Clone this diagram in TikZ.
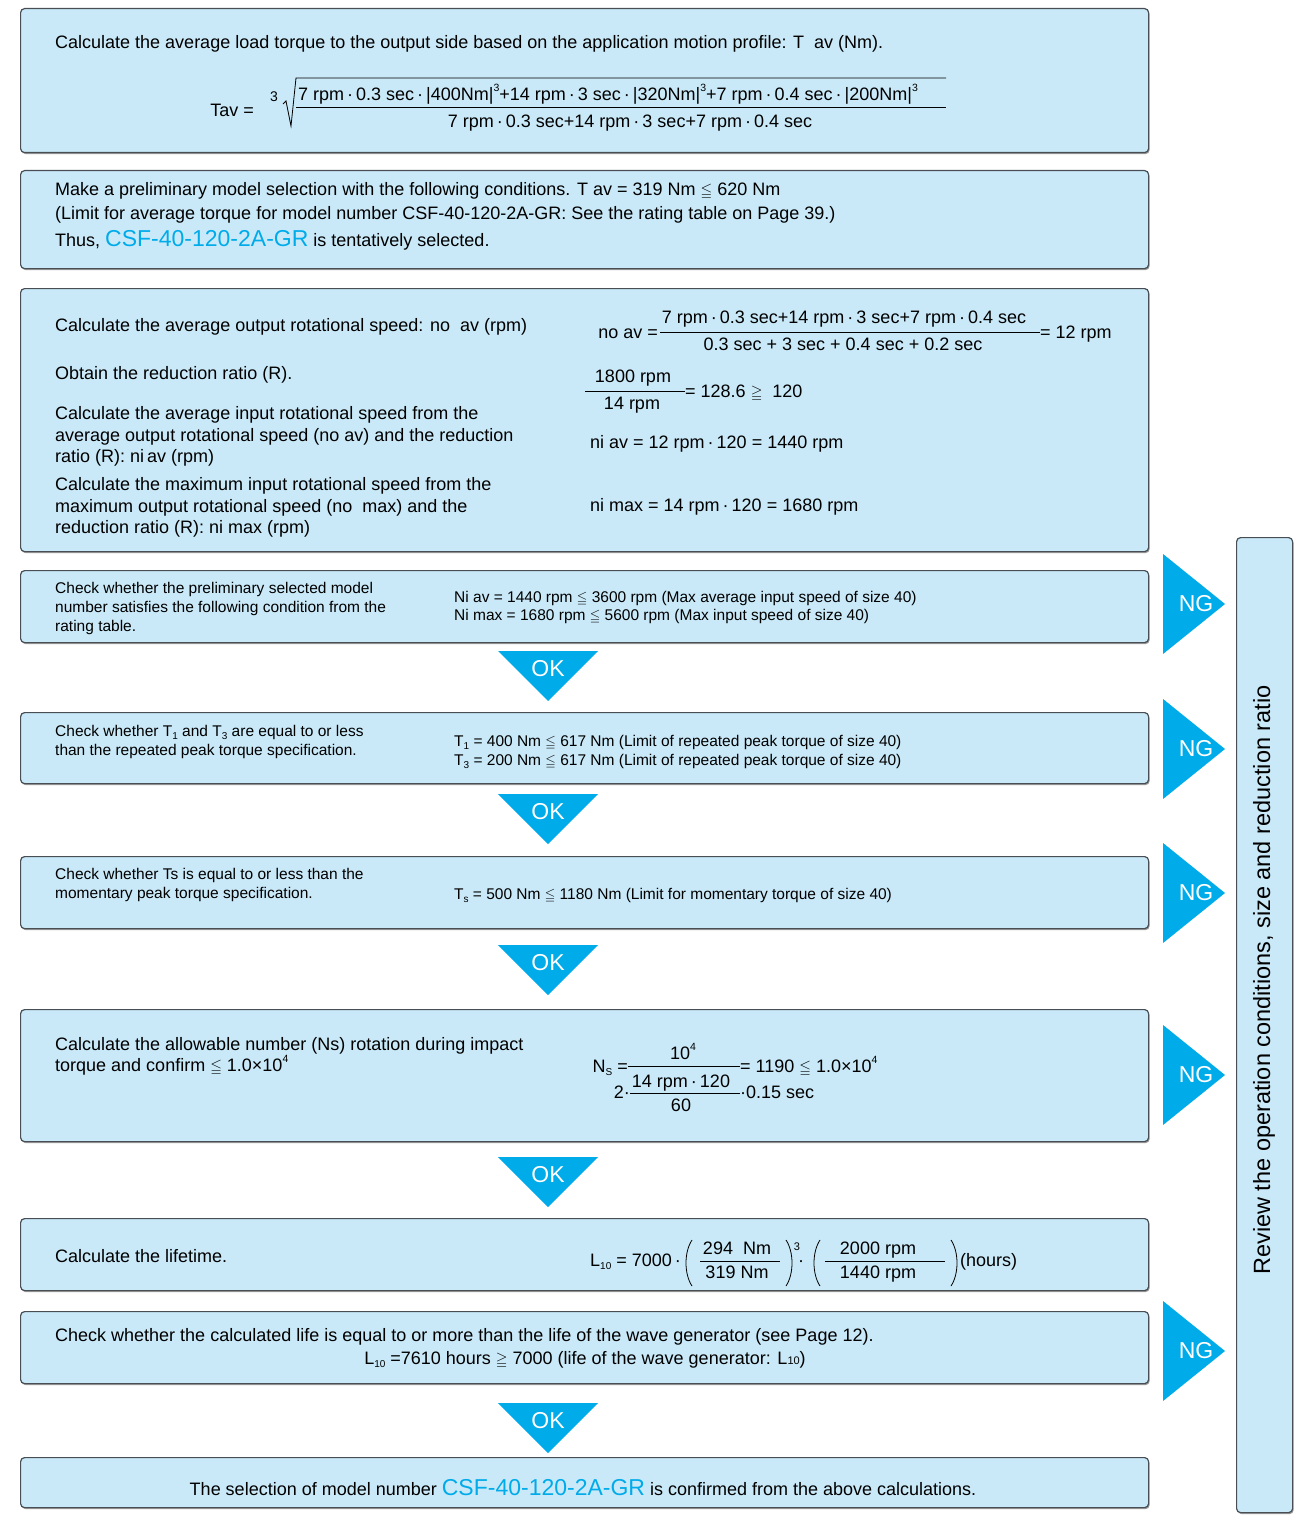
\documentclass[tikz,border=0pt]{standalone}
\usepackage{amssymb}
\usepackage{fontspec}
\setmainfont{Liberation Sans}
\usetikzlibrary{shadows}

\definecolor{cajafondo}{RGB}{201,233,248}
\definecolor{cajaborde}{RGB}{72,78,84}
\definecolor{cian}{RGB}{0,171,234}

\newcommand{\lesym}{{\fontsize{15}{15}\selectfont$\leqq$}}
\newcommand{\gesym}{{\fontsize{15}{15}\selectfont$\geqq$}}
\newcommand{\lesmall}{{\fontsize{13.5}{13.5}\selectfont$\leqq$}}
\newcommand{\dotm}{\,·\,}
\newcommand{\supx}[1]{\raisebox{0.5em}{\fontsize{10.5}{10.5}\selectfont #1}}
\newcommand{\subx}[1]{\raisebox{-0.2em}{\fontsize{10}{10}\selectfont #1}}
\newcommand{\modelo}{{\color{cian}\fontsize{23}{23}\selectfont CSF-40-120-2A-GR}}

\tikzset{
  caja/.style={draw=cajaborde, fill=cajafondo, line width=1.2pt, rounded corners=4pt,
    drop shadow={shadow xshift=1pt, shadow yshift=-1.5pt, opacity=0.4, fill=black},
    anchor=north west, inner sep=0, minimum width=1128pt},
  txt/.style={font=\fontsize{18}{21}\selectfont, inner sep=0, anchor=base west},
  txtc/.style={txt, anchor=base},
  peq/.style={font=\fontsize{15.5}{18}\selectfont, inner sep=0, anchor=base west},
  marca/.style={font=\fontsize{23}{23}\selectfont, text=white, inner sep=0},
  raya/.style={line width=0.8pt}
}

\begin{document}
\begin{tikzpicture}[x=1pt,y=-1pt]
    \useasboundingbox (0,0) rectangle (1301,1517);

    % Cajas
    \foreach \n/\y/\h in {1/8/144, 2/170/98, 3/288/263, 4/570/72, 5/712/71,
                          6/856/72, 7/1009/132, 8/1218/72, 9/1311/72, 10/1457/50}
        \node[caja, minimum height=\h pt] (c\n) at (20,\y) {};
    \node[caja, minimum width=56pt, minimum height=975pt] (c11) at (1236,537) {};

    % Par medio
    \node[txt] (t1) at (55,49) {Calculate the average load torque to the output side based on the application motion profile: T\ \ av (Nm).};
    \node[txt, anchor=base east] (tav) at (254,117) {Tav =};
    \node[font=\fontsize{14}{14}\selectfont, inner sep=0, anchor=base] (raiz) at (274,102) {3};
    \draw[raya] (283,104) -- (286,101) -- (291,126) -- (296,78) -- (946,78);
    \draw[raya] (296,107) -- (946,107);
    \node[txt] (num1) at (298,101) {7 rpm\dotm 0.3 sec\dotm |400Nm|\supx{3}+14 rpm\dotm 3 sec\dotm |320Nm|\supx{3}+7 rpm\dotm 0.4 sec\dotm |200Nm|\supx{3}};
    \node[txtc] (den1) at (630,128) {7 rpm\dotm 0.3 sec+14 rpm\dotm 3 sec+7 rpm\dotm 0.4 sec};

    % Seleccion preliminar
    \node[txt] (t2a) at (55,196) {Make a preliminary model selection with the following conditions. T av = 319 Nm \lesym\ 620 Nm};
    \node[txt] (t2b) at (55,219) {(Limit for average torque for model number CSF-40-120-2A-GR: See the rating table on Page 39.)};
    \node[txt] (t2c) at (55,246) {Thus, \modelo\ is tentatively selected.};

    % Velocidades
    \node[txt] (t3a) at (55,331) {Calculate the average output rotational speed: no\ \ av (rpm)};
    \node[txt] (t3b) at (55,379) {Obtain the reduction ratio (R).};
    \node[txt] (t3c) at (55,419) {Calculate the average input rotational speed from the};
    \node[txt] (t3d) at (55,441) {average output rotational speed (no av) and the reduction};
    \node[txt] (t3e) at (55,462) {ratio (R): ni\,av (rpm)};
    \node[txt] (t3f) at (55,490) {Calculate the maximum input rotational speed from the};
    \node[txt] (t3g) at (55,512) {maximum output rotational speed (no\ \ max) and the};
    \node[txt] (t3h) at (55,533) {reduction ratio (R): ni max (rpm)};

    \node[txt, anchor=base east] (noav) at (658,338) {no av =};
    \draw[raya] (660,332) -- (1040,332);
    \node[txtc] (noavn) at (844,323) {7 rpm\dotm 0.3 sec+14 rpm\dotm 3 sec+7 rpm\dotm 0.4 sec};
    \node[txtc] (noavd) at (843,350) {0.3 sec + 3 sec + 0.4 sec + 0.2 sec};
    \node[txt] (noavr) at (1040,338) {= 12 rpm};
    \node[txtc] (rn) at (633,382) {1800 rpm};
    \draw[raya] (585,391) -- (685,391);
    \node[txtc] (rd) at (632,409) {14 rpm};
    \node[txt] (rr) at (685,397) {= 128.6 \gesym\ \ 120};
    \node[txt] (niav) at (590,448) {ni av = 12 rpm\dotm 120 = 1440 rpm};
    \node[txt] (nimax) at (590,511) {ni max = 14 rpm\dotm 120 = 1680 rpm};

    % Velocidad de entrada
    \node[peq] (t4a) at (55,593) {Check whether the preliminary selected model};
    \node[peq] (t4b) at (55,612) {number satisfies the following condition from the};
    \node[peq] (t4c) at (55,631) {rating table.};
    \node[peq] (t4d) at (454,602) {Ni av = 1440 rpm \lesmall\ 3600 rpm (Max average input speed of size 40)};
    \node[peq] (t4e) at (454,620) {Ni max = 1680 rpm \lesmall\ 5600 rpm (Max input speed of size 40)};

    % Par de pico repetido
    \node[peq] (t5a) at (55,736) {Check whether T\subx{1} and T\subx{3} are equal to or less};
    \node[peq] (t5b) at (55,755) {than the repeated peak torque specification.};
    \node[peq] (t5c) at (454,746) {T\subx{1} = 400 Nm \lesmall\ 617 Nm (Limit of repeated peak torque of size 40)};
    \node[peq] (t5d) at (454,765) {T\subx{3} = 200 Nm \lesmall\ 617 Nm (Limit of repeated peak torque of size 40)};

    % Par momentaneo
    \node[peq] (t6a) at (55,879) {Check whether Ts is equal to or less than the};
    \node[peq] (t6b) at (55,898) {momentary peak torque specification.};
    \node[peq] (t6c) at (454,899) {T\subx{s} = 500 Nm \lesmall\ 1180 Nm (Limit for momentary torque of size 40)};

    % Numero de rotaciones
    \node[txt] (t7a) at (55,1050) {Calculate the allowable number (Ns) rotation during impact};
    \node[txt] (t7b) at (55,1071) {torque and confirm \lesym\ 1.0×10\supx{4}};
    \node[txt, anchor=base east] (ns) at (628,1072) {N\subx{S} =};
    \draw[raya] (628,1066) -- (740,1066);
    \node[txtc] (nsn) at (683,1059) {10\supx{4}};
    \node[txt] (nsr) at (740,1072) {= 1190 \lesym\ 1.0×10\supx{4}};
    \node[txt, anchor=base east] (ns2) at (630,1098) {2·};
    \draw[raya] (630,1093) -- (740,1093);
    \node[txtc] (nsi) at (681,1087) {14 rpm\dotm 120};
    \node[txtc] (ns60) at (681,1111) {60};
    \node[txt] (nst) at (740,1098) {·0.15 sec};

    % Vida
    \node[txt] (t8a) at (55,1262) {Calculate the lifetime.};
    \node[txt] (l10) at (590,1266) {L\subx{10} = 7000\dotm};
    \draw[raya] (692,1240) .. controls (684,1252) and (684,1274) .. (692,1286);
    \node[txtc] (l10a) at (737,1254) {294\ \ Nm};
    \draw[raya] (700,1261) -- (780,1261);
    \node[txtc] (l10b) at (737,1278) {319 Nm};
    \draw[raya] (786,1240) .. controls (794,1252) and (794,1274) .. (786,1286);
    \node[font=\fontsize{11}{11}\selectfont, inner sep=0] (exp3) at (797,1247) {3};
    \node[txt] (pt8) at (798,1266) {·};
    \draw[raya] (820,1240) .. controls (812,1252) and (812,1274) .. (820,1286);
    \node[txtc] (l10c) at (878,1254) {2000 rpm};
    \draw[raya] (825,1261) -- (945,1261);
    \node[txtc] (l10d) at (878,1278) {1440 rpm};
    \draw[raya] (951,1240) .. controls (959,1252) and (959,1274) .. (951,1286);
    \node[txt] (hrs) at (960,1266) {(hours)};

    % Generador de onda
    \node[txt] (t9a) at (55,1341) {Check whether the calculated life is equal to or more than the life of the wave generator (see Page 12).};
    \node[txtc] (t9b) at (585,1364) {L\subx{10} =7610 hours \gesym\ 7000 (life of the wave generator: L{\fontsize{11}{11}\selectfont 10})};

    % Resultado
    \node[txtc] (t10) at (583,1495) {The selection of model number \modelo\ is confirmed from the above calculations.};

    % Revision
    \node[rotate=90, font=\fontsize{23.5}{23.5}\selectfont, inner sep=0] (rev) at (1264,980) {Review the operation conditions, size and reduction ratio};

    % Flechas OK
    \foreach \t in {651,794,945,1157,1403}{
        \fill[cian] (498,\t) -- (598,\t) -- (548,\t+50) -- cycle;
        \node[marca] (ok\t) at (548,\t+18) {OK};
    }

    % Flechas NG
    \foreach \m in {604,749,893,1075,1351}{
        \fill[cian] (1163,\m-50) -- (1225,\m) -- (1163,\m+50) -- cycle;
        \node[marca] (ng\m) at (1196,\m) {NG};
    }
\end{tikzpicture}
\end{document}
